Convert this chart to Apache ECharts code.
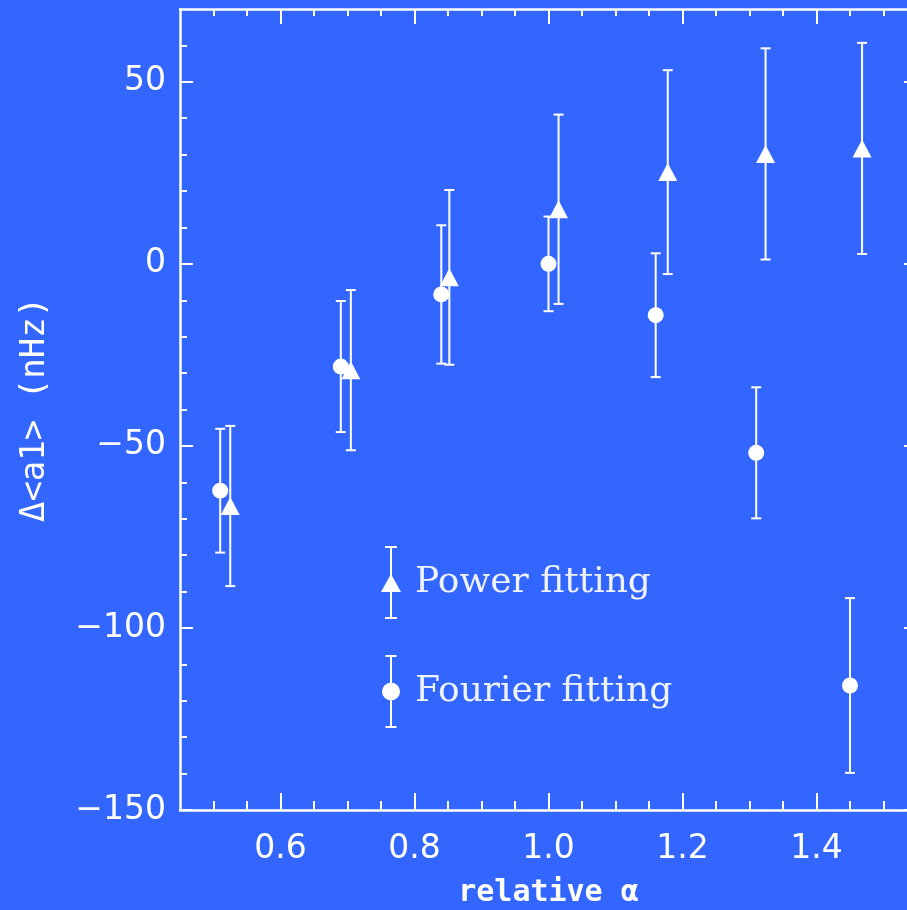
<!DOCTYPE html>
<html>
<head>
<meta charset="utf-8">
<script src="https://cdn.jsdelivr.net/npm/echarts@6/dist/echarts.min.js"></script>
<style>
  html, body { margin: 0; padding: 0; background: #3366ff; }
  #chart { width: 907px; height: 910px; }
</style>
</head>
<body>
<div id="chart"></div>
<script>
// Relative alpha of each run (the power-fit points are nudged right so the bars don't overlap)
const alphaFourier = [0.51, 0.69, 0.84, 1.00, 1.16, 1.31, 1.45];
const alphaPower   = [0.525, 0.705, 0.852, 1.015, 1.178, 1.324, 1.468];

// Δ<a1> in nHz and its 1-sigma uncertainty
const fourierValues = [-62.3, -28.2, -8.4, 0, -14.1, -51.9, -115.8];
const fourierErrors = [17, 18, 19, 13, 17, 18, 24];
const powerValues   = [-66.5, -29.2, -3.7, 15.0, 25.2, 30.2, 31.7];
const powerErrors   = [22, 22, 24, 26, 28, 29, 29];

// Tick positions
const xMajorTicks = [0.6, 0.8, 1.0, 1.2, 1.4];
const xMinorTicks = [0.5, 0.55, 0.65, 0.7, 0.75, 0.85, 0.9, 0.95, 1.05, 1.1, 1.15, 1.25, 1.3, 1.35, 1.45, 1.5];
const yMajorTicks = [-150, -100, -50, 0, 50];
const yMinorTicks = [-140, -130, -120, -110, -90, -80, -70, -60, -40, -30, -20, -10, 10, 20, 30, 40, 60];

const X_MIN = 0.45, X_MAX = 1.55, Y_MIN = -150, Y_MAX = 70;
const WHITE = '#ffffff';
const SANS = 'DejaVu Sans';
const MONO = 'DejaVu Sans Mono';

const zip3 = (xs, ys, es) => xs.map((x, i) => [x, ys[i], es[i]]);
const fourierData = zip3(alphaFourier, fourierValues, fourierErrors);
const powerData = zip3(alphaPower, powerValues, powerErrors);

// Vertical error bar with end caps
function renderErrorBar(params, api) {
  const x = api.value(0), y = api.value(1), e = api.value(2);
  const top = api.coord([x, y + e]);
  const bot = api.coord([x, y - e]);
  const hw = 5;
  const style = { stroke: WHITE, lineWidth: 2 };
  return {
    type: 'group',
    children: [
      { type: 'line', shape: { x1: top[0], y1: top[1], x2: bot[0], y2: bot[1] }, style },
      { type: 'line', shape: { x1: top[0] - hw, y1: top[1], x2: top[0] + hw, y2: top[1] }, style },
      { type: 'line', shape: { x1: bot[0] - hw, y1: bot[1], x2: bot[0] + hw, y2: bot[1] }, style }
    ]
  };
}

function minusFmt(v) {
  const n = Math.round(v);
  return n < 0 ? '\u2212' + Math.abs(n) : String(n);
}

function xAxisDef(pos, tickVals, len, withLine, withLabels) {
  return {
    type: 'value', position: pos, min: X_MIN, max: X_MAX,
    axisLine: { show: withLine, onZero: false, lineStyle: { color: WHITE, width: 2.5 } },
    axisTick: { show: true, inside: true, length: len, customValues: tickVals, lineStyle: { color: WHITE, width: 2 } },
    axisLabel: withLabels ? {
      show: true, customValues: tickVals, color: WHITE, fontFamily: SANS, fontSize: 33, margin: 23,
      formatter: v => v.toFixed(1)
    } : { show: false },
    splitLine: { show: false }
  };
}

function yAxisDef(pos, tickVals, len, withLine, withLabels) {
  return {
    type: 'value', position: pos, min: Y_MIN, max: Y_MAX,
    axisLine: { show: withLine, onZero: false, lineStyle: { color: WHITE, width: 2.5 } },
    axisTick: { show: true, inside: true, length: len, customValues: tickVals, lineStyle: { color: WHITE, width: 2 } },
    axisLabel: withLabels ? {
      show: true, customValues: tickVals, color: WHITE, fontFamily: SANS, fontSize: 33, margin: 14,
      formatter: minusFmt
    } : { show: false },
    splitLine: { show: false }
  };
}

const xBottom = xAxisDef('bottom', xMajorTicks, 17, true, true);
xBottom.name = 'relative \u03b1';
xBottom.nameLocation = 'middle';
xBottom.nameGap = 68;
xBottom.nameTextStyle = { color: WHITE, fontFamily: MONO, fontSize: 30, fontWeight: 'bold' };

const yLeft = yAxisDef('left', yMajorTicks, 13, true, true);
yLeft.name = '\u0394<a1> (nHz)';
yLeft.nameLocation = 'middle';
yLeft.nameGap = 128;
yLeft.nameTextStyle = { color: WHITE, fontFamily: MONO, fontSize: 34 };

// Legend glyphs: error bar with the series marker
const powerIcon = 'path://M4,0H16V2H4Z M9,0H11V73H9Z M4,71H16V73H4Z M0,46L10,28L20,46Z';
const fourierIcon = 'path://M4.5,0H15.5V2H4.5Z M9,0H11V73H9Z M4.5,71H15.5V73H4.5Z M1,36.5A9,9 0 1 1 19,36.5A9,9 0 1 1 1,36.5Z';

const chart = echarts.init(document.getElementById('chart'), null, { renderer: 'canvas' });
chart.setOption({
  backgroundColor: '#3366ff',
  animation: false,
  grid: { left: 180, top: 9, right: -10, bottom: 100, containLabel: false, outerBoundsMode: 'none' },
  xAxis: [
    xBottom,
    xAxisDef('bottom', xMinorTicks, 9, false, false),
    xAxisDef('top', xMajorTicks, 15, true, false),
    xAxisDef('top', xMinorTicks, 7, false, false)
  ],
  yAxis: [
    yLeft,
    yAxisDef('left', yMinorTicks, 7, false, false),
    yAxisDef('right', yMajorTicks, 13, true, false),
    yAxisDef('right', yMinorTicks, 7, false, false)
  ],
  legend: {
    orient: 'vertical', left: 376, top: 541,
    itemWidth: 20, itemHeight: 73, itemGap: 36,
    selectedMode: false,
    data: [
      { name: 'Power fitting', icon: powerIcon },
      { name: 'Fourier fitting', icon: fourierIcon }
    ],
    textStyle: { color: 'rgba(255,255,255,0.92)', fontFamily: 'DejaVu Serif', fontSize: 36, padding: [0, 0, 0, 9] }
  },
  series: [
    {
      type: 'custom', renderItem: renderErrorBar, data: fourierData,
      encode: { x: 0, y: 1 }, silent: true, z: 2
    },
    {
      type: 'custom', renderItem: renderErrorBar, data: powerData,
      encode: { x: 0, y: 1 }, silent: true, z: 2
    },
    {
      name: 'Fourier fitting', type: 'scatter', data: fourierData,
      encode: { x: 0, y: 1 }, symbol: 'circle', symbolSize: 16,
      itemStyle: { color: WHITE, opacity: 1 }, z: 3
    },
    {
      name: 'Power fitting', type: 'scatter', data: powerData,
      encode: { x: 0, y: 1 }, symbol: 'triangle', symbolSize: [19, 18],
      itemStyle: { color: WHITE, opacity: 1 }, z: 3
    }
  ]
});
</script>
</body>
</html>
